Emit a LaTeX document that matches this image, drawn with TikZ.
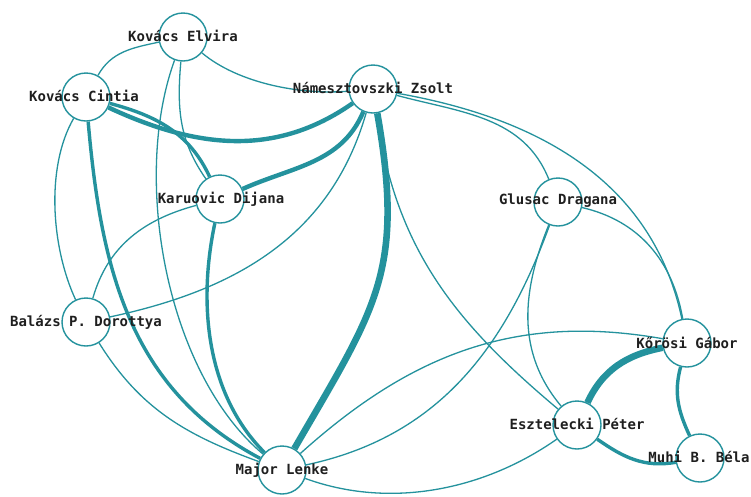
\documentclass[tikz,border=0pt]{standalone}
\usepackage{fontspec}
\setmonofont{DejaVu Sans Mono}
\definecolor{tealA}{RGB}{36,146,157}
\pgfdeclarelayer{bglayer}
\pgfdeclarelayer{edgelayer}
\pgfsetlayers{bglayer,edgelayer,main}
\tikzset{
  person/.style={circle, draw=tealA, line width=1.4pt, fill=white, minimum size=48pt, inner sep=0pt},
  lbl/.style={font=\ttfamily\bfseries\fontsize{14}{16}\selectfont, text=black!88, inner sep=0pt, text height=9pt, text depth=0pt},
  ethin/.style={draw=tealA, line width=1.3pt},
  emed/.style={draw=tealA, line width=3.4pt},
  ethick/.style={draw=tealA, line width=4.4pt},
  ehuge/.style={draw=tealA, line width=6.6pt},
}
\begin{document}
\begin{tikzpicture}[x=1pt,y=1pt]
\begin{pgfonlayer}{bglayer}
\fill[white] (0,0) rectangle (751,-496);
\end{pgfonlayer}
\useasboundingbox (0,0) rectangle (751,-496);
% people
\node[person] (El) at (183,-37) {};
\node[person] (Ci) at (86,-97) {};
\node[person] (Zs) at (373,-89) {};
\node[person] (Di) at (220,-199) {};
\node[person] (Gl) at (558,-202) {};
\node[person] (Ba) at (86,-322) {};
\node[person] (ML) at (282,-470) {};
\node[person] (Ko) at (687,-343) {};
\node[person] (Es) at (577,-425) {};
\node[person] (Mu) at (700,-458) {};
% labels
\node[lbl] (El-t) at (183,-37) {Kovács Elvira};
\node[lbl] (Ci-t) at (84,-97) {Kovács Cintia};
\node[lbl] (Zs-t) at (373,-89) {Námesztovszki Zsolt};
\node[lbl] (Di-t) at (221,-199) {Karuovic Dijana};
\node[lbl] (Gl-t) at (558,-200) {Glusac Dragana};
\node[lbl] (Ba-t) at (86,-322) {Balázs P. Dorottya};
\node[lbl] (ML-t) at (282,-470) {Major Lenke};
\node[lbl] (Ko-t) at (687,-344) {Kőrösi Gábor};
\node[lbl] (Es-t) at (577,-425) {Esztelecki Péter};
\node[lbl] (Mu-t) at (699,-458) {Muhi B. Béla};
% edges
\begin{pgfonlayer}{edgelayer}
\draw[ethin] (Ci) to[out=61,in=192] (El);
\draw[ethin] (El) to[out=-40,in=185,looseness=0.8] (Zs);
\draw[ethin] (El) to[out=250,in=140,looseness=0.8] (ML);
\draw[ethin] (El) to[out=265,in=125] (Di);
\draw[ethick] (Ci) to[out=-25,in=215] (Zs);
\draw[emed] (Ci) to[out=-15,in=115] (Di);
\draw[emed] (Ci) to[out=275,in=152] (ML);
\draw[ethin] (Ci) to[out=240,in=115,looseness=0.8] (Ba);
\draw[ethick] (Zs) to[out=247,in=24] (Di);
\draw[ehuge] (Zs) to[out=-80,in=60,looseness=1.2] (ML);
\draw[ethin] (Zs) to[out=254,in=12] (Ba);
\draw[ethin] (Zs) to[out=-82,in=140] (Es);
\draw[ethin] (Zs) to[out=-15,in=112] (Gl);
\draw[ethin] (Zs) to[out=-10,in=102] (Ko);
\draw[ethin] (Gl) to[out=-13,in=100] (Ko);
\draw[ethin] (Gl) to[out=250,in=12] (ML);
\draw[ethin] (Gl) to[out=248,in=130] (Es);
\draw[ethin] (ML) to[out=42,in=170] (Ko);
\draw[ethin] (ML) to[out=-20,in=215,looseness=0.9] (Es);
\draw[ehuge] (Es) to[out=65,in=191] (Ko);
\draw[emed] (Ko) to[out=255,in=115] (Mu);
\draw[emed] (Es) to[out=-35,in=190] (Mu);
\draw[ethin] (Ba) to[out=-58,in=160] (ML);
\draw[emed] (Di) to[out=258,in=135,looseness=0.9] (ML);
\draw[ethin] (Di) to[out=195,in=74] (Ba);
\end{pgfonlayer}
\end{tikzpicture}
\end{document}
